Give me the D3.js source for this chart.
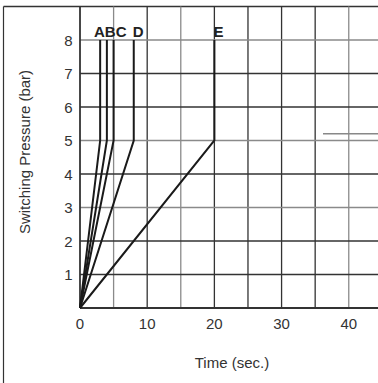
<!DOCTYPE html>
<html><head><meta charset="utf-8">
<script src="https://cdn.jsdelivr.net/npm/d3@7"></script>
<style>body{margin:0;background:#fff}svg{display:block}text{font-family:"Liberation Sans",Arial,sans-serif}</style>
</head><body><svg id="c" width="378" height="383"></svg>
<script>
const seriesNames = ["A","B","C","D","E"];
const kneeTimes   = [3, 4, 5, 8, 20];   // time (s) at which each curve reaches 5 bar
const kneePressure = 5;
const topPressure  = 8;
const xTicks = [0,10,20,30,40];
const yTicks = [1,2,3,4,5,6,7,8];
const xGrid = [5,10,15,20,25,30,35,40];
const yGrid = [1,2,3,4,5,6,7,8];
const refLineY = 5.2; // short grey line at right

const svg = d3.select("#c");
const x = d3.scaleLinear().domain([0,44.5]).range([80,379]);
const y = d3.scaleLinear().domain([0,9]).range([308,6.5]);

const darkX = new Set([10,20,25,30,35]);
const darkY = new Set([1,2,4,6,7]);

// outer frame
svg.append("line").attr("x1",3.5).attr("x2",3.5).attr("y1",6.5).attr("y2",383).attr("stroke","#333").attr("stroke-width",1.2);
svg.append("line").attr("x1",3.5).attr("x2",378).attr("y1",6.5).attr("y2",6.5).attr("stroke","#333").attr("stroke-width",1.5);

// grid
svg.append("g").selectAll("line").data(xGrid).join("line")
  .attr("x1",d=>x(d)).attr("x2",d=>x(d)).attr("y1",y(9)).attr("y2",y(0))
  .attr("stroke",d=>darkX.has(d)?"#333":"#8a8a8a").attr("stroke-width",1.3);
svg.append("g").selectAll("line").data(yGrid).join("line")
  .attr("x1",x(0)).attr("x2",378).attr("y1",d=>y(d)).attr("y2",d=>y(d))
  .attr("stroke",d=>darkY.has(d)?"#333":"#8a8a8a").attr("stroke-width",1.3);

// axes lines
svg.append("line").attr("x1",x(0)).attr("x2",x(0)).attr("y1",y(9)).attr("y2",y(0)).attr("stroke","#333").attr("stroke-width",1.8);
svg.append("line").attr("x1",x(0)).attr("x2",378).attr("y1",y(0)).attr("y2",y(0)).attr("stroke","#333").attr("stroke-width",2);

// grey reference stub
svg.append("line").attr("x1",323).attr("x2",378).attr("y1",y(refLineY)).attr("y2",y(refLineY)).attr("stroke","#888").attr("stroke-width",1.5);

// tick labels
svg.append("g").selectAll("text").data(xTicks).join("text")
  .attr("x",d=>x(d)).attr("y",329).attr("text-anchor","middle").attr("font-size",15).attr("fill","#333").text(d=>d);
svg.append("g").selectAll("text").data(yTicks).join("text")
  .attr("x",72.5).attr("y",d=>y(d)+5.5).attr("text-anchor","end").attr("font-size",15).attr("fill","#333").text(d=>d);

// axis titles
svg.append("text").attr("x",232).attr("y",368).attr("text-anchor","middle").attr("font-size",15).attr("fill","#333").text("Time (sec.)");
svg.append("text").attr("transform","translate(30,152) rotate(-90)").attr("text-anchor","middle").attr("font-size",15).attr("fill","#333").text("Switching Pressure (bar)");

// curves
const line = d3.line().x(d=>x(d[0])).y(d=>y(d[1]));
svg.append("g").selectAll("path").data(kneeTimes).join("path")
  .attr("d",t=>line([[0,0],[t,kneePressure],[t,topPressure]]))
  .attr("fill","none").attr("stroke","#1a1a1a").attr("stroke-width",2).attr("stroke-linejoin","miter");

// labels
svg.append("text").attr("x",94).attr("y",37).attr("font-size",15).attr("font-weight","bold").attr("fill","#222").text("ABC");
svg.append("text").attr("x",x(kneeTimes[3])-1).attr("y",37).attr("font-size",15).attr("font-weight","bold").attr("fill","#222").text("D");
svg.append("text").attr("x",x(kneeTimes[4])-1).attr("y",37).attr("font-size",15).attr("font-weight","bold").attr("fill","#222").text("E");
</script></body></html>
